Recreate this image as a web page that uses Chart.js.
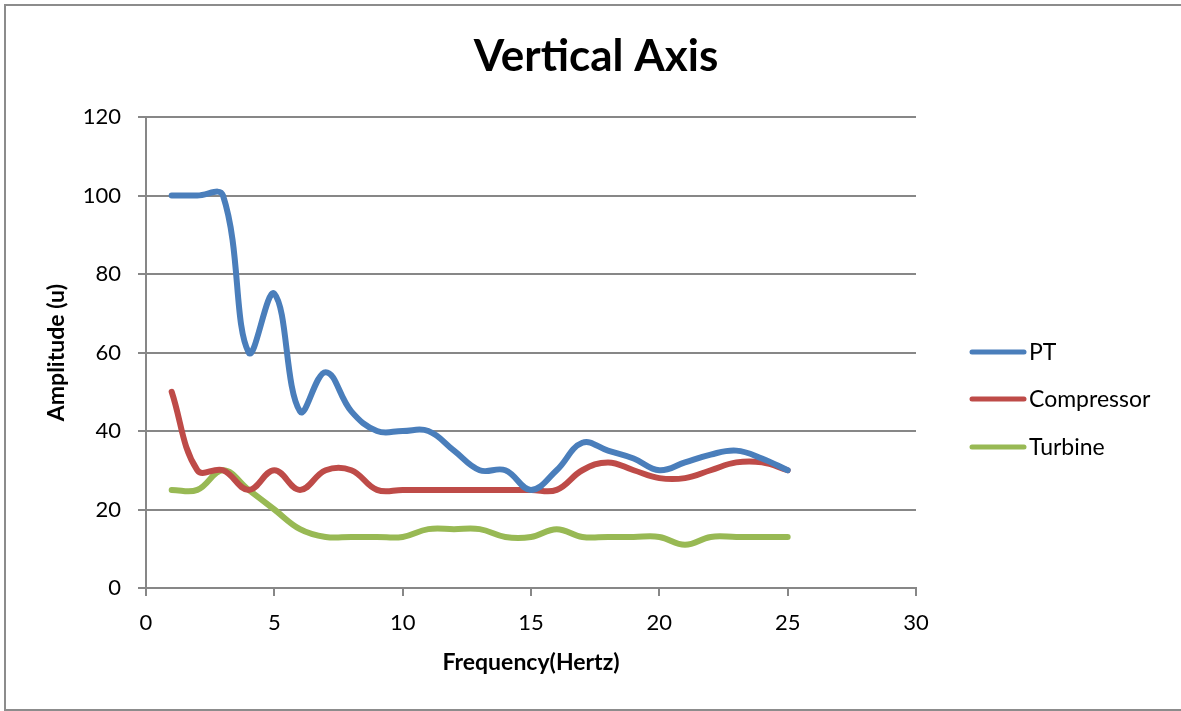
<!DOCTYPE html>
<html>
<head>
<meta charset="utf-8">
<script src="https://cdn.jsdelivr.net/npm/chart.js@4"></script>
<style>
    body { margin: 0; background: #fff; }
    #wrap { width: 1181px; height: 711px; }
</style>
</head>
<body>
<div id="wrap"><canvas id="grafico" width="1181" height="711"></canvas></div>
<script>
// dados
const frequencias = [1, 2, 3, 4, 5, 6, 7, 8, 9, 10, 11, 12, 13, 14, 15, 16, 17, 18, 19, 20, 21, 22, 23, 24, 25];
const valoresPT = [100, 100, 100, 60, 75, 45, 55, 45, 40, 40, 40, 35, 30, 30, 25, 30, 37, 35, 33, 30, 32, 34, 35, 33, 30];
const valoresCompressor = [50, 30, 30, 25, 30, 25, 30, 30, 25, 25, 25, 25, 25, 25, 25, 25, 30, 32, 30, 28, 28, 30, 32, 32, 30];
const valoresTurbine = [25, 25, 30, 25, 20, 15, 13, 13, 13, 13, 15, 15, 15, 13, 13, 15, 13, 13, 13, 13, 11, 13, 13, 13, 13];
const titulo = 'Vertical Axis';

const fonte = 'Lato, "Open Sans", sans-serif';
const corGrade = '#878787';

function pontos(valores) {
    return frequencias.map((f, i) => ({ x: f, y: valores[i] }));
}

// titulo, legenda e moldura desenhados a mao (estilo Excel)
const legendaExcel = {
    id: 'legendaExcel',
    afterDraw(chart) {
        const ctx = chart.ctx;
        ctx.save();
        ctx.strokeStyle = '#8c8c8c';
        ctx.lineWidth = 2;
        ctx.strokeRect(5, 5, 1185, 705);

        ctx.fillStyle = '#000';
        ctx.font = 'bold 44px ' + fonte;
        ctx.textAlign = 'center';
        ctx.textBaseline = 'middle';
        ctx.fillText(titulo, 596, 57);

        const ys = [352, 399, 447];
        ctx.textAlign = 'left';
        chart.data.datasets.forEach((ds, i) => {
            ctx.strokeStyle = ds.borderColor;
            ctx.lineWidth = 5;
            ctx.lineCap = 'round';
            ctx.beginPath();
            ctx.moveTo(972, ys[i]);
            ctx.lineTo(1024, ys[i]);
            ctx.stroke();
            ctx.fillStyle = '#000';
            ctx.font = '23px ' + fonte;
            ctx.fillText(ds.label, 1029, ys[i] + 1);
        });
        ctx.restore();
    }
};

const ctx = document.getElementById('grafico').getContext('2d');
new Chart(ctx, {
    type: 'line',
    data: {
        datasets: [{
            label: 'PT',
            data: pontos(valoresPT),
            borderColor: '#4a7ebb',
            borderWidth: 6
        },
        {
            label: 'Compressor',
            data: pontos(valoresCompressor),
            borderColor: '#be4b48',
            borderWidth: 6
        },
        {
            label: 'Turbine',
            data: pontos(valoresTurbine),
            borderColor: '#98b954',
            borderWidth: 6
        }]
    },
    options: {
        responsive: false,
        animation: false,
        elements: {
            point: { radius: 0 },
            line: { tension: 0.4, borderCapStyle: 'round', borderJoinStyle: 'round' }
        },
        layout: {
            padding: { left: 0, right: 265, top: 117, bottom: 0 }
        },
        plugins: {
            legend: { display: false },
            tooltip: { enabled: false },
            title: { display: false }
        },
        scales: {
            x: {
                type: 'linear',
                min: 0,
                max: 30,
                ticks: {
                    stepSize: 5,
                    color: '#000',
                    font: { family: fonte, size: 22 },
                    padding: 14
                },
                grid: {
                    drawOnChartArea: false,
                    color: corGrade,
                    lineWidth: 2,
                    tickLength: 8
                },
                border: { color: corGrade, width: 2 },
                title: {
                    display: true,
                    text: 'Frequency(Hertz)',
                    color: '#000',
                    font: { family: fonte, size: 23, weight: 'bold' },
                    padding: { top: 0, bottom: 35 }
                },
                afterFit(scale) { scale.height = 123; }
            },
            y: {
                min: 0,
                max: 120,
                ticks: {
                    stepSize: 20,
                    color: '#000',
                    font: { family: fonte, size: 22 },
                    padding: 17
                },
                grid: {
                    color: corGrade,
                    lineWidth: 2,
                    tickLength: 8
                },
                border: { color: corGrade, width: 2 },
                title: {
                    display: true,
                    text: 'Amplitude (u)',
                    color: '#000',
                    font: { family: fonte, size: 23, weight: 'bold' },
                    padding: { top: 43, bottom: 0 }
                },
                afterFit(scale) { scale.width = 146; }
            }
        }
    },
    plugins: [legendaExcel]
});
</script>
</body>
</html>
